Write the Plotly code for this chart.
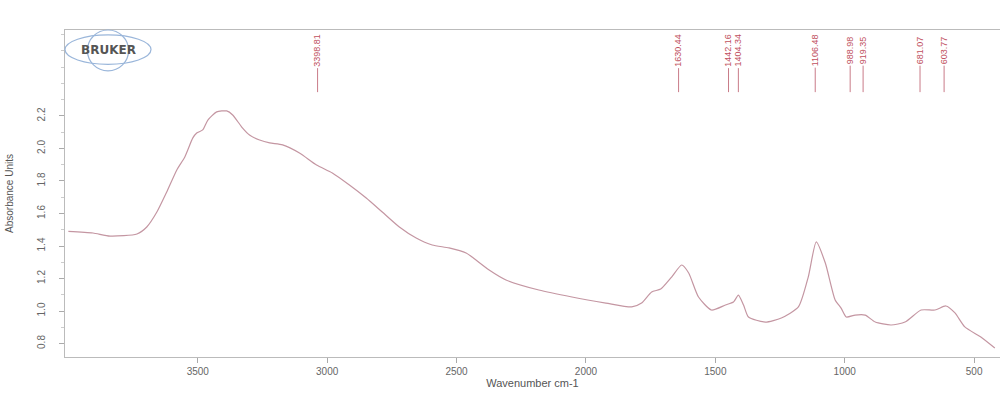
import plotly.graph_objects as go

# Spectrum (wavenumber cm-1, absorbance units)
wavenumber = [4000, 3905, 3839, 3735, 3697, 3658, 3620, 3581, 3550, 3519, 3504, 3481,
              3461, 3427, 3388, 3365, 3330, 3300, 3261, 3222, 3172, 3107, 3041, 2980,
              2914, 2849, 2787, 2721, 2656, 2594, 2529, 2463, 2440, 2374, 2309, 2182,
              2054, 1923, 1823, 1785, 1746, 1711, 1669, 1630, 1603, 1565, 1515, 1461,
              1430, 1411, 1391, 1372, 1307, 1245, 1179, 1141, 1110, 1075, 1037, 1014,
              994, 960, 921, 882, 821, 767, 705, 651, 609, 574, 536, 474, 420]
absorbance = [1.49, 1.48, 1.461, 1.474, 1.517, 1.609, 1.732, 1.868, 1.948, 2.065, 2.095, 2.114,
              2.175, 2.225, 2.231, 2.206, 2.132, 2.083, 2.052, 2.034, 2.022, 1.972, 1.898, 1.849,
              1.775, 1.695, 1.609, 1.517, 1.449, 1.406, 1.388, 1.357, 1.332, 1.252, 1.191, 1.129,
              1.086, 1.049, 1.025, 1.049, 1.117, 1.135, 1.209, 1.283, 1.234, 1.086, 1.006, 1.037,
              1.055, 1.098, 1.037, 0.963, 0.932, 0.957, 1.025, 1.209, 1.425, 1.295, 1.068, 1.018,
              0.963, 0.975, 0.975, 0.932, 0.914, 0.932, 1.006, 1.006, 1.031, 0.988, 0.902, 0.840, 0.772]

# Peak labels and where they are printed along the wavenumber axis
peak_labels = ["3398.81", "1630.44", "1442.16", "1404.34", "1106.48", "988.98", "919.35", "681.07", "603.77"]
peak_label_pos = [3037, 1642, 1449, 1411, 1114, 979, 929, 709, 616]

x_ticks = [3500, 3000, 2500, 2000, 1500, 1000, 500]
y_ticks = [0.8, 1.0, 1.2, 1.4, 1.6, 1.8, 2.0, 2.2]

fig = go.Figure()
fig.add_trace(go.Scatter(x=wavenumber, y=absorbance, mode="lines",
                         line=dict(color="#c496a2", width=1.2, shape="spline", smoothing=0.6),
                         hoverinfo="skip", showlegend=False))

for lab, pos in zip(peak_labels, peak_label_pos):
    fig.add_annotation(x=pos, y=0.81, xref="x", yref="paper", text=lab,
                       textangle=-90, showarrow=True, arrowhead=0, arrowwidth=1,
                       arrowcolor="#c97b88", ax=0, ay=-42, standoff=0,
                       font=dict(family="Liberation Sans Narrow, Liberation Sans", size=9, color="#c0505e"))

# Bruker logo (decoration)
fig.add_shape(type="circle", xref="paper", yref="paper", x0=0.0, x1=0.092, y0=0.895, y1=0.985,
              line=dict(color="#9ab6da", width=1.2))
fig.add_shape(type="circle", xref="paper", yref="paper", x0=0.024, x1=0.068, y0=0.875, y1=1.0,
              line=dict(color="#9ab6da", width=1.2))
fig.add_annotation(x=0.046, y=0.94, xref="paper", yref="paper", text="<b>BRUKER</b>",
                   showarrow=False, xanchor="center", yanchor="middle",
                   font=dict(family="DejaVu Sans", size=12, color="#555"))

fig.update_layout(
    width=1000, height=393,
    margin=dict(l=65, r=0, t=30, b=36, autoexpand=False),
    paper_bgcolor="white", plot_bgcolor="white",
    font=dict(family="Liberation Sans", color="#666", size=11),
    xaxis=dict(range=[4013, 400], tickvals=x_ticks, ticks="outside", ticklen=5,
               tickcolor="#aaa", showline=True, linecolor="#bbb", mirror=True,
               showgrid=False, zeroline=False, automargin=False,
               title=dict(text="Wavenumber cm-1", standoff=0, font=dict(size=11, color="#555")),
               tickfont=dict(size=10, color="#666")),
    yaxis=dict(range=[0.717, 2.729], tickvals=y_ticks, ticktext=[f"{v:.1f}" for v in y_ticks],
               ticks="outside", ticklen=5, tickcolor="#aaa", tickangle=-90,
               ticklabelstandoff=10,
               showline=True, linecolor="#bbb", showgrid=False, zeroline=False, automargin=False,
               minor=dict(ticks="outside", ticklen=3, tickcolor="#ccc", dtick=0.1),
               title=dict(text="Absorbance Units", standoff=20, font=dict(size=10, color="#555")),
               tickfont=dict(size=10, color="#666")),
)

fig.write_html("out.html", config={"displayModeBar": False},
               post_script="document.body.style.margin='0px';document.body.style.overflow='hidden';")
